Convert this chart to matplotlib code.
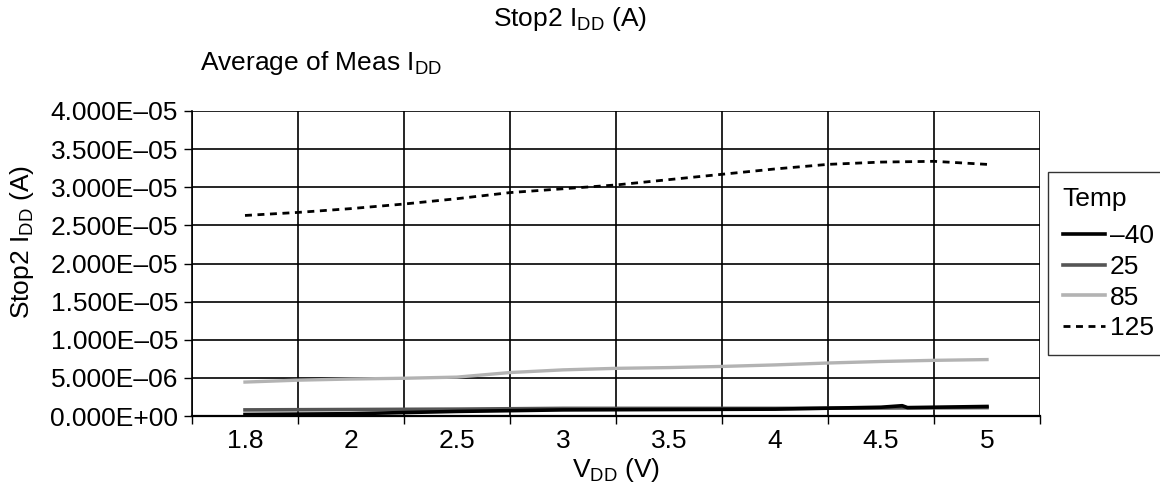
import numpy as np
import matplotlib
matplotlib.use("Agg")
import matplotlib.pyplot as plt
from matplotlib.lines import Line2D

plt.rcParams['font.family'] = ['Liberation Sans', 'DejaVu Sans']
plt.rcParams['mathtext.fontset'] = 'custom'
plt.rcParams['mathtext.rm'] = 'Liberation Sans'
plt.rcParams['mathtext.it'] = 'Liberation Sans'

# Category labels on the x axis (evenly spaced categories)
vdd_labels = ['1.8', '2', '2.5', '3', '3.5', '4', '4.5', '5']
# Sample positions (in category units) at which values were read
pos_125 = [0, 0.5, 1, 1.5, 2, 2.5, 3, 3.5, 4, 4.5, 5, 5.5, 6, 6.5, 7]
idd_125 = [2.63e-5, 2.67e-5, 2.72e-5, 2.78e-5, 2.85e-5, 2.93e-5, 2.98e-5, 3.03e-5,
           3.10e-5, 3.17e-5, 3.24e-5, 3.30e-5, 3.33e-5, 3.34e-5, 3.30e-5]
pos_85 = [0, 0.5, 1, 1.5, 2, 2.5, 3, 3.5, 4, 4.5, 5, 5.5, 6, 6.5, 7]
idd_85 = [4.45e-6, 4.7e-6, 4.85e-6, 4.95e-6, 5.1e-6, 5.7e-6, 6.05e-6, 6.25e-6,
          6.35e-6, 6.5e-6, 6.7e-6, 6.95e-6, 7.15e-6, 7.3e-6, 7.4e-6]
pos_25 = [0, 1, 2, 3, 4, 5, 6, 7]
idd_25 = [8.0e-7, 8.5e-7, 9.0e-7, 1.0e-6, 1.0e-6, 1.0e-6, 1.05e-6, 1.1e-6]
pos_m40 = [0, 1, 2, 3, 4, 5, 6, 6.2, 6.25, 7]
idd_m40 = [2.0e-7, 3.0e-7, 6.0e-7, 8.0e-7, 8.5e-7, 9.0e-7, 1.15e-6, 1.35e-6, 1.1e-6, 1.25e-6]

ytick_vals = [0, 5e-6, 1e-5, 1.5e-5, 2e-5, 2.5e-5, 3e-5, 3.5e-5, 4e-5]
ytick_labels = ['0.000E+00', '5.000E\u201306', '1.000E\u201305', '1.500E\u201305',
                '2.000E\u201305', '2.500E\u201305', '3.000E\u201305', '3.500E\u201305',
                '4.000E\u201305']

FS = 19
DASH = (0, (2.5, 2.0))

fig = plt.figure(figsize=(11.6, 4.91), dpi=100)
ax = fig.add_axes([192/1160, 1-416/491, (1040-192)/1160, (416-111)/491])

ncat = len(vdd_labels)
ax.set_xlim(-0.5, ncat - 0.5)
ax.set_ylim(0, 4e-5)

# gridlines at category boundaries
bounds = np.arange(ncat + 1) - 0.5
ax.set_xticks(bounds)
ax.set_xticklabels([])
ax.set_xticks(np.arange(ncat), minor=True)
ax.set_xticklabels(vdd_labels, minor=True, fontsize=FS)
ax.tick_params(axis='x', which='minor', length=0, pad=9)
ax.tick_params(axis='x', which='major', length=6, width=1, direction='out')
ax.set_yticks(ytick_vals)
ax.set_yticklabels(ytick_labels, fontsize=FS)
ax.tick_params(axis='y', length=6, width=1, direction='out', pad=4)
ax.grid(True, which='major', color='black', linewidth=1.2)
for s in ['top', 'right']:
    ax.spines[s].set_visible(False)
ax.spines['left'].set_linewidth(1.2)
ax.spines['bottom'].set_linewidth(1.6)

ax.plot(pos_125, idd_125, color='black', lw=2.0, linestyle=DASH, zorder=5)
ax.plot(pos_85, idd_85, color='#b3b3b3', lw=2.4, zorder=4)
ax.plot(pos_25, idd_25, color='#555555', lw=2.6, zorder=4)
ax.plot(pos_m40, idd_m40, color='black', lw=2.6, zorder=5)

ax.set_xlabel(r'V$_{\mathrm{DD}}$ (V)', fontsize=FS)
ax.xaxis.set_label_coords(0.5, (416-470)/305, transform=ax.transAxes)
ax.xaxis.label.set_va('center')
ax.set_ylabel(r'Stop2 I$_{\mathrm{DD}}$ (A)', fontsize=FS)
ax.yaxis.set_label_coords((22-192)/848, 0.57, transform=ax.transAxes)
ax.yaxis.label.set_va('center')

fig.text(570/1160, 1-19/491, r'Stop2 I$_{\mathrm{DD}}$ (A)', ha='center', va='center', fontsize=FS)
fig.text(200/1160, 1-63/491, r'Average of Meas I$_{\mathrm{DD}}$', ha='left', va='center', fontsize=FS)

handles = [Line2D([], [], color='black', lw=2.6),
           Line2D([], [], color='#555555', lw=2.6),
           Line2D([], [], color='#b3b3b3', lw=2.6),
           Line2D([], [], color='black', lw=2.0, linestyle=DASH)]
leg = fig.legend(handles, ['\u201340', '25', '85', '125'], title='Temp',
                 loc='upper left', bbox_to_anchor=(1048/1160, 1-172/491),
                 fontsize=FS, title_fontsize=FS, frameon=True, fancybox=False,
                 edgecolor='black', handlelength=1.6, handletextpad=0.2,
                 labelspacing=0.25, borderpad=0.55, borderaxespad=0)
leg._legend_box.align = 'left'
leg._legend_box.sep = 10
leg.get_frame().set_linewidth(1.0)

fig.savefig('out.png', dpi=100)
